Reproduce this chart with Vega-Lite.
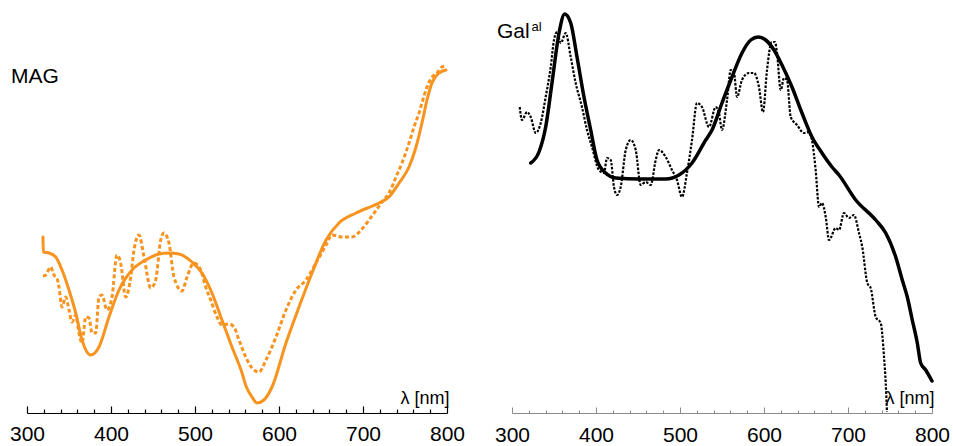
{
  "$schema": "https://vega.github.io/schema/vega-lite/v6.json",
  "padding": {"left": 9, "top": 0, "right": 0, "bottom": 0},
  "bounds": "flush",
  "spacing": 65,
  "config": {"view": {"stroke": null}, "font": "Liberation Sans", "axis": {"grid": false}},
  "hconcat": [
    {
      "width": 420,
      "height": 413,
      "title": {"text": "MAG", "anchor": "start", "frame": "group", "dx": -16, "dy": 87, "offset": 0, "fontSize": 21, "fontWeight": "normal", "color": "black", "font": "Liberation Sans"},
      "data": {"values": [
        {"c":"s","nm":319,"v":176},{"c":"s","nm":319.5,"v":161},{"c":"s","nm":326.2,"v":160},{"c":"s","nm":334.2,"v":156},{"c":"s","nm":341.7,"v":143},{"c":"s","nm":350,"v":123},{"c":"s","nm":358,"v":100},{"c":"s","nm":365.5,"v":73},{"c":"s","nm":375.8,"v":58},{"c":"s","nm":385.7,"v":66},{"c":"s","nm":397.6,"v":96},{"c":"s","nm":409.5,"v":123},{"c":"s","nm":425,"v":143},{"c":"s","nm":441.3,"v":153},{"c":"s","nm":457.1,"v":159},{"c":"s","nm":469,"v":160},{"c":"s","nm":481,"v":159},{"c":"s","nm":496.4,"v":151},{"c":"s","nm":508.3,"v":140},{"c":"s","nm":520.2,"v":120},{"c":"s","nm":532.1,"v":93},{"c":"s","nm":544,"v":66},{"c":"s","nm":556,"v":40},{"c":"s","nm":560.7,"v":27},{"c":"s","nm":567.9,"v":16},{"c":"s","nm":573.8,"v":10},{"c":"s","nm":582,"v":13},{"c":"s","nm":591.7,"v":26},{"c":"s","nm":608.3,"v":70},{"c":"s","nm":623.8,"v":106},{"c":"s","nm":639.3,"v":140},{"c":"s","nm":656,"v":173},{"c":"s","nm":671.4,"v":190},{"c":"s","nm":691.7,"v":200},{"c":"s","nm":719,"v":210},{"c":"s","nm":731,"v":216},{"c":"s","nm":742.9,"v":230},{"c":"s","nm":754.8,"v":246},{"c":"s","nm":763.1,"v":266},{"c":"s","nm":770.2,"v":290},{"c":"s","nm":776.2,"v":313},{"c":"s","nm":782.1,"v":330},{"c":"s","nm":790.5,"v":340},{"c":"s","nm":798.8,"v":343},
        {"c":"d","nm":319,"v":137},{"c":"d","nm":322.3,"v":138},{"c":"d","nm":328.2,"v":146},{"c":"d","nm":332.1,"v":138},{"c":"d","nm":335.7,"v":135},{"c":"d","nm":338.1,"v":126},{"c":"d","nm":341.7,"v":106},{"c":"d","nm":346.1,"v":116},{"c":"d","nm":350,"v":103},{"c":"d","nm":353.6,"v":91},{"c":"d","nm":358,"v":98},{"c":"d","nm":361.9,"v":80},{"c":"d","nm":365.5,"v":70},{"c":"d","nm":369.9,"v":96},{"c":"d","nm":373.8,"v":95},{"c":"d","nm":377.4,"v":80},{"c":"d","nm":381.8,"v":80},{"c":"d","nm":385.7,"v":116},{"c":"d","nm":389.3,"v":118},{"c":"d","nm":395.2,"v":103},{"c":"d","nm":401.2,"v":116},{"c":"d","nm":407.1,"v":158},{"c":"d","nm":411.5,"v":150},{"c":"d","nm":417.5,"v":116},{"c":"d","nm":423.5,"v":136},{"c":"d","nm":427.4,"v":163},{"c":"d","nm":433.3,"v":178},{"c":"d","nm":439.3,"v":156},{"c":"d","nm":447.3,"v":125},{"c":"d","nm":453.2,"v":133},{"c":"d","nm":459.2,"v":173},{"c":"d","nm":463.1,"v":180},{"c":"d","nm":469,"v":170},{"c":"d","nm":475,"v":136},{"c":"d","nm":484.5,"v":122},{"c":"d","nm":490.5,"v":136},{"c":"d","nm":498.8,"v":150},{"c":"d","nm":506.8,"v":143},{"c":"d","nm":512.7,"v":126},{"c":"d","nm":518.7,"v":113},{"c":"d","nm":526.2,"v":96},{"c":"d","nm":532.1,"v":88},{"c":"d","nm":540.5,"v":89},{"c":"d","nm":546.4,"v":86},{"c":"d","nm":552.4,"v":73},{"c":"d","nm":560.4,"v":56},{"c":"d","nm":567.9,"v":45},{"c":"d","nm":576.2,"v":41},{"c":"d","nm":584.5,"v":53},{"c":"d","nm":596.4,"v":76},{"c":"d","nm":608.3,"v":103},{"c":"d","nm":620.2,"v":123},{"c":"d","nm":632.1,"v":133},{"c":"d","nm":644,"v":150},{"c":"d","nm":656,"v":168},{"c":"d","nm":663.1,"v":178},{"c":"d","nm":675,"v":176},{"c":"d","nm":686.9,"v":176},{"c":"d","nm":698.8,"v":184},{"c":"d","nm":710.7,"v":197},{"c":"d","nm":722.6,"v":211},{"c":"d","nm":731,"v":220},{"c":"d","nm":739.3,"v":236},{"c":"d","nm":746.4,"v":250},{"c":"d","nm":754.8,"v":270},{"c":"d","nm":760.7,"v":286},{"c":"d","nm":766.7,"v":300},{"c":"d","nm":770.2,"v":310},{"c":"d","nm":776.2,"v":326},{"c":"d","nm":782.1,"v":336},{"c":"d","nm":788.1,"v":340},{"c":"d","nm":794,"v":346},{"c":"d","nm":798.8,"v":347}
      ]},
      "encoding": {
        "y": {"field": "v", "type": "quantitative", "scale": {"domain": [0, 413], "nice": false}, "axis": null}
      },
      "layer": [
        {
          "transform": [{"filter": "datum.c === 's'"}],
          "mark": {"type": "line", "color": "#f7931e", "strokeWidth": 3, "interpolate": "monotone", "strokeCap": "round"},
          "encoding": {
            "x": {"field": "nm", "type": "quantitative", "scale": {"domain": [300, 800], "nice": false, "zero": false},
                  "axis": {"orient": "bottom", "values": [300, 400, 500, 600, 700, 800], "tickSize": -7, "tickColor": "black", "tickWidth": 1.2, "domainColor": "black", "domainWidth": 1.2, "labelFlush": false, "labelFontSize": 21, "labelColor": "black", "labelPadding": 17, "labelFont": "Liberation Sans", "title": "λ [nm]", "titleFontSize": 18, "titleFontWeight": "normal", "titleColor": "black", "titleAnchor": "end", "titleAlign": "right", "titleBaseline": "bottom", "titleY": -6, "titleX": 422}}
          }
        },
        {
          "transform": [{"filter": "datum.c === 'd'"}],
          "mark": {"type": "line", "color": "#f7931e", "strokeWidth": 3, "strokeDash": [4, 2.5], "interpolate": "monotone"},
          "encoding": {
            "x": {"field": "nm", "type": "quantitative",
                  "axis": {"orient": "bottom", "values": [320, 340, 360, 380, 420, 440, 460, 480, 520, 540, 560, 580, 620, 640, 660, 680, 720, 740, 760, 780], "tickSize": -4, "tickColor": "black", "tickWidth": 1.2, "domain": false, "labels": false, "title": null}}
          }
        }
      ],
      "resolve": {"axis": {"x": "independent"}}
    },
    {
      "width": 420,
      "height": 413,
      "title": {"text": "Gal", "anchor": "start", "frame": "group", "dx": -15, "dy": 42, "offset": 0, "fontSize": 21, "fontWeight": "normal", "color": "black", "font": "Liberation Sans"},
      "data": {"values": [
        {"c":"s","nm":322.3,"v":250},{"c":"s","nm":332.1,"v":261},{"c":"s","nm":340.1,"v":286},{"c":"s","nm":347.6,"v":330},{"c":"s","nm":356,"v":380},{"c":"s","nm":362.7,"v":399},{"c":"s","nm":369.9,"v":390},{"c":"s","nm":377.4,"v":356},{"c":"s","nm":385.7,"v":316},{"c":"s","nm":393.7,"v":283},{"c":"s","nm":401.2,"v":253},{"c":"s","nm":411.5,"v":240},{"c":"s","nm":423.5,"v":235},{"c":"s","nm":451.2,"v":234},{"c":"s","nm":483,"v":234},{"c":"s","nm":498.8,"v":238},{"c":"s","nm":514.3,"v":250},{"c":"s","nm":530.6,"v":273},{"c":"s","nm":538.1,"v":283},{"c":"s","nm":550,"v":310},{"c":"s","nm":561.9,"v":336},{"c":"s","nm":573.8,"v":360},{"c":"s","nm":584.2,"v":373},{"c":"s","nm":593.2,"v":376},{"c":"s","nm":602,"v":373},{"c":"s","nm":611.9,"v":363},{"c":"s","nm":621.4,"v":348},{"c":"s","nm":633.3,"v":326},{"c":"s","nm":645.2,"v":300},{"c":"s","nm":657.1,"v":276},{"c":"s","nm":669,"v":260},{"c":"s","nm":681,"v":246},{"c":"s","nm":689.3,"v":238},{"c":"s","nm":709.2,"v":213},{"c":"s","nm":733,"v":193},{"c":"s","nm":744.9,"v":180},{"c":"s","nm":756.8,"v":156},{"c":"s","nm":764.6,"v":133},{"c":"s","nm":770.6,"v":116},{"c":"s","nm":776.5,"v":93},{"c":"s","nm":782.5,"v":70},{"c":"s","nm":786.5,"v":50},{"c":"s","nm":792.5,"v":43},{"c":"s","nm":800,"v":32},
        {"c":"d","nm":309.2,"v":306},{"c":"d","nm":311.9,"v":293},{"c":"d","nm":317.9,"v":301},{"c":"d","nm":322.3,"v":296},{"c":"d","nm":328.2,"v":280},{"c":"d","nm":334.2,"v":290},{"c":"d","nm":340.1,"v":316},{"c":"d","nm":346.1,"v":346},{"c":"d","nm":350,"v":373},{"c":"d","nm":353.6,"v":381},{"c":"d","nm":358,"v":370},{"c":"d","nm":363.9,"v":380},{"c":"d","nm":369.9,"v":356},{"c":"d","nm":375.8,"v":330},{"c":"d","nm":383.3,"v":306},{"c":"d","nm":389.3,"v":283},{"c":"d","nm":395.2,"v":266},{"c":"d","nm":403.6,"v":243},{"c":"d","nm":409.5,"v":240},{"c":"d","nm":413.1,"v":255},{"c":"d","nm":417.5,"v":253},{"c":"d","nm":421.4,"v":226},{"c":"d","nm":425,"v":218},{"c":"d","nm":429.4,"v":226},{"c":"d","nm":435.4,"v":263},{"c":"d","nm":441.3,"v":273},{"c":"d","nm":447.3,"v":263},{"c":"d","nm":453.2,"v":228},{"c":"d","nm":459.2,"v":231},{"c":"d","nm":465.1,"v":228},{"c":"d","nm":471.1,"v":253},{"c":"d","nm":475,"v":263},{"c":"d","nm":483,"v":256},{"c":"d","nm":490.5,"v":243},{"c":"d","nm":496.4,"v":233},{"c":"d","nm":502.4,"v":216},{"c":"d","nm":508.3,"v":240},{"c":"d","nm":514.3,"v":273},{"c":"d","nm":520.2,"v":310},{"c":"d","nm":526.2,"v":306},{"c":"d","nm":534.5,"v":286},{"c":"d","nm":542.5,"v":306},{"c":"d","nm":546.4,"v":300},{"c":"d","nm":550,"v":283},{"c":"d","nm":556,"v":313},{"c":"d","nm":560.4,"v":343},{"c":"d","nm":564.3,"v":340},{"c":"d","nm":567.9,"v":316},{"c":"d","nm":573.8,"v":333},{"c":"d","nm":582.1,"v":340},{"c":"d","nm":588.1,"v":340},{"c":"d","nm":594,"v":326},{"c":"d","nm":598.8,"v":301},{"c":"d","nm":603.6,"v":343},{"c":"d","nm":609.2,"v":371},{"c":"d","nm":613.1,"v":371},{"c":"d","nm":615.5,"v":360},{"c":"d","nm":619.9,"v":323},{"c":"d","nm":623.8,"v":335},{"c":"d","nm":627.4,"v":333},{"c":"d","nm":631.8,"v":296},{"c":"d","nm":639.3,"v":288},{"c":"d","nm":647.6,"v":280},{"c":"d","nm":653.6,"v":281},{"c":"d","nm":657.1,"v":273},{"c":"d","nm":661.5,"v":243},{"c":"d","nm":665.5,"v":206},{"c":"d","nm":669,"v":210},{"c":"d","nm":673.5,"v":196},{"c":"d","nm":677.4,"v":173},{"c":"d","nm":685.4,"v":185},{"c":"d","nm":689.3,"v":183},{"c":"d","nm":695.2,"v":200},{"c":"d","nm":701.2,"v":195},{"c":"d","nm":707.1,"v":198},{"c":"d","nm":713.1,"v":180},{"c":"d","nm":717,"v":166},{"c":"d","nm":723,"v":130},{"c":"d","nm":727,"v":125},{"c":"d","nm":733,"v":96},{"c":"d","nm":738.9,"v":90},{"c":"d","nm":742.9,"v":56},{"c":"d","nm":744.9,"v":30},{"c":"d","nm":746.4,"v":1}
      ]},
      "encoding": {
        "y": {"field": "v", "type": "quantitative", "scale": {"domain": [0, 413], "nice": false},
              "axis": {"orient": "left", "domain": false, "ticks": false, "labels": false, "grid": false, "minExtent": 0, "maxExtent": 0, "title": "al", "titleAngle": 0, "titleAlign": "left", "titleBaseline": "top", "titleX": 19, "titleY": 20, "titleFontSize": 13, "titleFontWeight": "normal", "titleColor": "black", "titleFont": "Liberation Sans"}}
      },
      "layer": [
        {
          "transform": [{"filter": "datum.c === 's'"}],
          "mark": {"type": "line", "color": "black", "strokeWidth": 3.5, "interpolate": "monotone", "strokeCap": "round"},
          "encoding": {
            "x": {"field": "nm", "type": "quantitative", "scale": {"domain": [300, 800], "nice": false, "zero": false},
                  "axis": {"orient": "bottom", "values": [300, 400, 500, 600, 700, 800], "tickSize": -6, "tickColor": "#8c8c8c", "tickWidth": 1, "domainColor": "#8c8c8c", "domainWidth": 1, "labelFlush": false, "labelFontSize": 21, "labelColor": "black", "labelPadding": 17, "labelFont": "Liberation Sans", "title": "λ [nm]", "titleFontSize": 18, "titleFontWeight": "normal", "titleColor": "black", "titleAnchor": "end", "titleAlign": "right", "titleBaseline": "bottom", "titleY": -6, "titleX": 422}}
          }
        },
        {
          "transform": [{"filter": "datum.c === 'd'"}],
          "mark": {"type": "line", "color": "black", "strokeWidth": 2.2, "strokeDash": [2.5, 1.5], "interpolate": "monotone"},
          "encoding": {
            "x": {"field": "nm", "type": "quantitative",
                  "axis": {"orient": "bottom", "values": [320, 340, 360, 380, 420, 440, 460, 480, 520, 540, 560, 580, 620, 640, 660, 680, 720, 740, 760, 780], "tickSize": -3, "tickColor": "#8c8c8c", "tickWidth": 1, "domain": false, "labels": false, "title": null}}
          }
        }
      ],
      "resolve": {"axis": {"x": "independent"}}
    }
  ]
}
